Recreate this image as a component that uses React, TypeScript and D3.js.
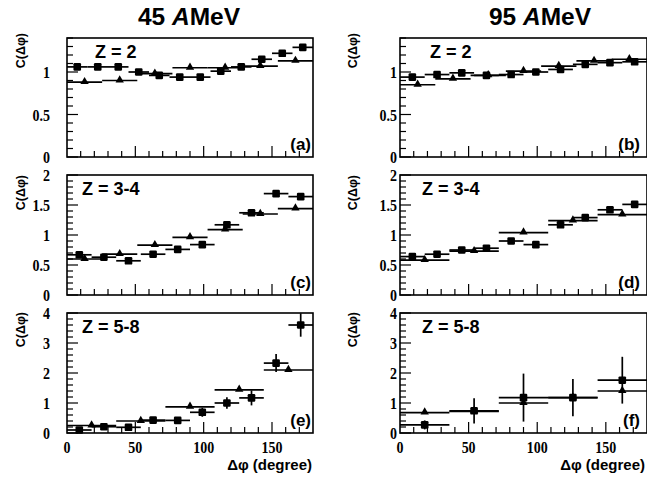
import React, { useEffect, useRef } from "react";
import * as d3 from "d3";

// C(dphi) read per bin, bins spread evenly over 0..180 degree
const aSquares = [1.06, 1.06, 1.06, 1.0, 0.96, 0.94, 0.94, 1.01, 1.06, 1.15, 1.22, 1.29];
const aTriangles = [0.88, 0.9, 0.98, 1.05, 1.05, 1.07, 1.13];
const bSquares = [0.94, 0.97, 0.99, 0.96, 0.97, 1.0, 1.03, 1.09, 1.11, 1.12];
const bTriangles = [0.85, 0.92, 0.96, 1.01, 1.07, 1.13, 1.15];
const cSquares = [0.67, 0.63, 0.57, 0.68, 0.76, 0.84, 1.17, 1.37, 1.69, 1.64];
const cTriangles = [0.6, 0.68, 0.83, 0.96, 1.09, 1.35, 1.44];
const dSquares = [0.64, 0.68, 0.75, 0.78, 0.9, 0.84, 1.17, 1.29, 1.42, 1.51];
const dTriangles = [0.58, 0.73, 1.04, 1.24, 1.34];
const eSquares = [0.1, 0.21, 0.19, 0.43, 0.42, 0.69, 1.0, 1.17, 2.33, 3.6];
const eSquareErr = [0, 0.03, 0.03, 0.05, 0.05, 0.15, 0.19, 0.25, 0.3, 0.39];
const eTriangles = [0.25, 0.4, 0.87, 1.44, 2.1];
const fSquares = [0.27, 0.74, 1.18, 1.18, 1.76];
const fSquareErr = [0.15, 0.42, 0.8, 0.62, 0.78];
const fTriangles = [0.68, 0.72, 1.0, 1.18, 1.4];

const titles = ["45 ", "95 "];
const zLabels = ["Z = 2", "Z = 3-4", "Z = 5-8"];
const panelLetters = ["(a)", "(b)", "(c)", "(d)", "(e)", "(f)"];
const yTicksRow = [
  ["0", "0.5", "1"],
  ["0", "0.5", "1", "1.5", "2"],
  ["0", "1", "2", "3", "4"],
];
const xTickLabels = ["0", "50", "100", "150"];

const W = 647,
  H = 487;
const colX = [
  [67, 313],
  [400, 647],
];
const rowY = [
  [157, 38],
  [295, 175],
  [433, 313],
];
const rowMax = [1.4, 2, 4];
const rowMinor = [0.1, 0.1, 0.2];
const ylabShift = [-5, 0, -1];

const panels = [
  { row: 0, col: 0, sq: aSquares, tri: aTriangles, sqErr: null },
  { row: 0, col: 1, sq: bSquares, tri: bTriangles, sqErr: null },
  { row: 1, col: 0, sq: cSquares, tri: cTriangles, sqErr: null },
  { row: 1, col: 1, sq: dSquares, tri: dTriangles, sqErr: null },
  { row: 2, col: 0, sq: eSquares, tri: eTriangles, sqErr: eSquareErr },
  { row: 2, col: 1, sq: fSquares, tri: fTriangles, sqErr: fSquareErr },
];

const SANS = "'Liberation Sans', Arial, sans-serif";
const SERIF = "'Liberation Serif', 'Times New Roman', serif";

const App = () => {
  const chartEl = useRef<SVGSVGElement>(null);

  useEffect(() => {
    const svg = d3.select(chartEl.current);
    svg.selectAll("*").remove();

    // column titles
    titles.forEach((t, i) => {
      const txt = svg
        .append("text")
        .attr("x", i === 0 ? 189 : 540)
        .attr("y", 25)
        .attr("text-anchor", "middle")
        .attr("font-family", SANS)
        .attr("font-weight", "bold")
        .attr("font-size", 24.5);
      txt.append("tspan").text(t);
      txt.append("tspan").attr("font-style", "italic").text("A");
      txt.append("tspan").text("MeV");
    });

    panels.forEach((p, idx) => {
      const ymax = rowMax[p.row];
      const xScale = d3.scaleLinear().domain([0, 180]).range(colX[p.col]);
      const yScale = d3.scaleLinear().domain([0, ymax]).range(rowY[p.row]);
      const g = svg.append("g");

      g.append("rect")
        .attr("x", xScale(0))
        .attr("y", yScale(ymax))
        .attr("width", xScale(180) - xScale(0))
        .attr("height", yScale(0) - yScale(ymax))
        .attr("fill", "none")
        .attr("stroke", "#000")
        .attr("stroke-width", 1.6);

      // x ticks inside, every 10 degree
      d3.range(10, 180, 10).forEach((d) => {
        const len = d % 50 === 0 ? 11 : 6;
        g.append("line")
          .attr("x1", xScale(d))
          .attr("x2", xScale(d))
          .attr("y1", yScale(0))
          .attr("y2", yScale(0) - len)
          .attr("stroke", "#000")
          .attr("stroke-width", 1.2);
      });

      // y ticks
      const majors = yTicksRow[p.row].map(Number);
      d3.range(0, ymax + 1e-6, rowMinor[p.row]).forEach((v) => {
        const isMajor = majors.some((m) => Math.abs(m - v) < 1e-6);
        g.append("line")
          .attr("x1", xScale(0))
          .attr("x2", xScale(0) + (isMajor ? 11 : 6))
          .attr("y1", yScale(v))
          .attr("y2", yScale(v))
          .attr("stroke", "#000")
          .attr("stroke-width", 1.2);
      });

      const labRight = p.col === 0 ? 50 : 397;
      yTicksRow[p.row].forEach((l) => {
        g.append("text")
          .attr(
            "transform",
            `translate(${labRight},${yScale(+l) + 6}) scale(0.8,1)`
          )
          .attr("text-anchor", "end")
          .attr("font-family", SERIF)
          .attr("font-weight", "bold")
          .attr("font-size", 17.5)
          .text(l);
      });

      // y title
      g.append("text")
        .attr(
          "transform",
          `translate(${p.col === 0 ? 25 : 357},${yScale(ymax) + ylabShift[p.row]}) rotate(-90)`
        )
        .attr("text-anchor", "end")
        .attr("font-family", SANS)
        .attr("font-weight", "bold")
        .attr("font-size", 12.5)
        .text("C(\u0394\u03c6)");

      // Z label and panel letter
      g.append("text")
        .attr("x", p.row === 0 ? (p.col === 0 ? 95 : 430) : p.col === 0 ? 82 : 422)
        .attr("y", yScale(ymax) + 20)
        .attr("font-family", SANS)
        .attr("font-weight", "bold")
        .attr("font-size", 18)
        .text(zLabels[p.row]);

      g.append("text")
        .attr("x", p.col === 0 ? 311 : 640)
        .attr("y", yScale(0) - 7)
        .attr("text-anchor", "end")
        .attr("font-family", SANS)
        .attr("font-weight", "bold")
        .attr("font-size", 17)
        .text(panelLetters[idx]);

      // x tick labels + title on bottom row
      if (p.row === 2) {
        xTickLabels.forEach((l) => {
          g.append("text")
            .attr("transform", `translate(${xScale(+l)},453) scale(0.8,1)`)
            .attr("text-anchor", "middle")
            .attr("font-family", SERIF)
            .attr("font-weight", "bold")
            .attr("font-size", 17.5)
            .text(l);
        });
        g.append("text")
          .attr("x", p.col === 0 ? 312 : 645)
          .attr("y", 470)
          .attr("text-anchor", "end")
          .attr("font-family", SANS)
          .attr("font-weight", "bold")
          .attr("font-size", 15)
          .text("\u0394\u03c6 (degree)");
      }

      // data: horizontal bin bars, error bars, markers
      const drawSeries = (vals: number[], errs: number[] | null, kind: string) => {
        const w = 180 / vals.length;
        vals.forEach((v, i) => {
          const x0 = xScale(i * w),
            x1 = xScale((i + 1) * w),
            xc = xScale((i + 0.5) * w);
          g.append("line")
            .attr("x1", x0)
            .attr("x2", x1)
            .attr("y1", yScale(v))
            .attr("y2", yScale(v))
            .attr("stroke", "#000")
            .attr("stroke-width", 1.7);
          if (errs && errs[i] > 0) {
            g.append("line")
              .attr("x1", xc)
              .attr("x2", xc)
              .attr("y1", yScale(v - errs[i]))
              .attr("y2", yScale(v + errs[i]))
              .attr("stroke", "#000")
              .attr("stroke-width", 1.7);
          }
          if (kind === "sq") {
            g.append("rect")
              .attr("x", xc - 3.8)
              .attr("y", yScale(v) - 3.8)
              .attr("width", 7.6)
              .attr("height", 7.6)
              .attr("rx", 1.2)
              .attr("fill", "#000");
          } else {
            g.append("path")
              .attr("d", d3.symbol().type(d3.symbolTriangle).size(30)())
              .attr("transform", `translate(${xc},${yScale(v) - 0.5})`)
              .attr("fill", "#000");
          }
        });
      };
      drawSeries(p.tri, null, "tri");
      drawSeries(p.sq, p.sqErr, "sq");
    });
  }, [chartEl]);

  return (
    <svg
      ref={chartEl}
      width={W}
      height={H}
      style={{ position: "absolute", left: 0, top: 0, background: "#fff" }}
    ></svg>
  );
};

export default App;
